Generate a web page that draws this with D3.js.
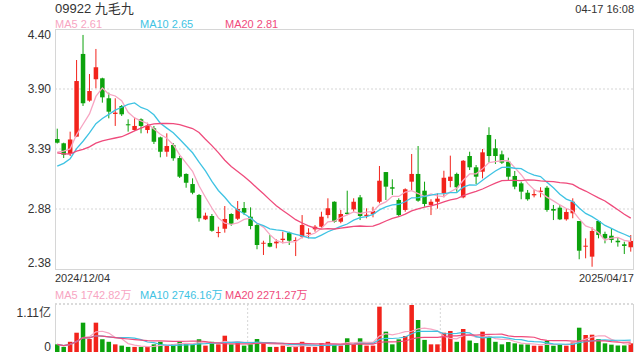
<!DOCTYPE html>
<html lang="zh">
<head>
<meta charset="UTF-8">
<title>09922 九毛九</title>
<script src="https://cdn.jsdelivr.net/npm/d3@7"></script>
<style>
  body { margin: 0; background: #fff; }
  svg { display: block; font-family: "Liberation Sans", Arial, "Noto Sans CJK SC", sans-serif; }
</style>
</head>
<body>
<svg id="chart" width="640" height="360"></svg>
<script>
// trading days shown
var dates = [
  "2024/12/04","2024/12/05","2024/12/06","2024/12/09","2024/12/10","2024/12/11","2024/12/12","2024/12/13","2024/12/16","2024/12/17",
  "2024/12/18","2024/12/19","2024/12/20","2024/12/23","2024/12/24","2024/12/27","2024/12/30","2024/12/31","2025/01/02","2025/01/03",
  "2025/01/06","2025/01/07","2025/01/08","2025/01/09","2025/01/10","2025/01/13","2025/01/14","2025/01/15","2025/01/16","2025/01/17",
  "2025/01/20","2025/01/21","2025/01/22","2025/01/23","2025/01/24","2025/01/27","2025/01/28","2025/02/03","2025/02/04","2025/02/05",
  "2025/02/06","2025/02/07","2025/02/10","2025/02/11","2025/02/12","2025/02/13","2025/02/14","2025/02/17","2025/02/18","2025/02/19",
  "2025/02/20","2025/02/21","2025/02/24","2025/02/25","2025/02/26","2025/02/27","2025/02/28","2025/03/03","2025/03/04","2025/03/05",
  "2025/03/06","2025/03/07","2025/03/10","2025/03/11","2025/03/12","2025/03/13","2025/03/14","2025/03/17","2025/03/18","2025/03/19",
  "2025/03/20","2025/03/21","2025/03/24","2025/03/25","2025/03/26","2025/03/27","2025/03/28","2025/03/31","2025/04/01","2025/04/02",
  "2025/04/03","2025/04/07","2025/04/08","2025/04/09","2025/04/10","2025/04/11","2025/04/14","2025/04/15","2025/04/16","2025/04/17"
];

var opens = [
  3.474,3.438,3.348,3.494,4.190,3.797,3.977,3.985,3.817,3.685,
  3.752,3.598,3.550,3.640,3.550,3.564,3.488,3.367,3.424,3.314,
  3.180,3.095,3.003,2.798,2.826,2.683,2.719,2.843,2.803,2.893,
  2.820,2.750,2.593,2.599,2.596,2.624,2.686,2.616,2.652,2.675,
  2.714,2.736,2.834,2.946,2.778,2.854,2.882,2.983,2.826,2.843,
  2.946,3.196,3.068,2.961,2.877,3.115,3.180,3.039,2.919,2.946,
  3.017,3.121,3.180,2.983,3.331,3.236,3.199,3.508,3.396,3.345,
  3.283,3.163,3.101,3.022,3.000,3.028,3.064,2.885,2.896,2.798,
  2.849,2.784,2.568,2.484,2.784,2.675,2.660,2.618,2.588,2.563
];
var highs = [
  3.561,3.443,3.536,4.139,4.350,4.021,4.232,3.990,3.864,3.817,
  3.760,3.640,3.657,3.648,3.611,3.584,3.494,3.522,3.440,3.331,
  3.185,3.143,3.011,2.854,2.843,2.736,2.910,2.849,2.952,2.944,
  2.899,2.759,2.618,2.666,2.630,2.694,2.694,2.647,2.834,2.723,
  2.750,2.862,2.975,2.950,2.877,3.039,2.975,3.003,2.891,2.904,
  3.247,3.196,3.135,2.975,3.059,3.348,3.415,3.115,2.967,3.017,
  3.207,3.334,3.191,3.297,3.367,3.255,3.390,3.573,3.472,3.376,
  3.317,3.205,3.115,3.045,3.045,3.068,3.079,2.919,2.919,2.891,
  2.975,2.784,2.638,2.731,2.784,2.694,2.723,2.647,2.610,2.666
];
var lows = [
  3.436,3.314,3.331,3.490,3.752,3.788,3.901,3.780,3.648,3.584,
  3.668,3.536,3.544,3.522,3.522,3.432,3.320,3.325,3.291,3.146,
  3.064,3.009,2.778,2.792,2.694,2.647,2.686,2.744,2.792,2.834,
  2.714,2.546,2.498,2.563,2.554,2.596,2.582,2.489,2.638,2.638,
  2.694,2.723,2.807,2.770,2.765,2.834,2.862,2.792,2.807,2.815,
  2.933,2.961,3.003,2.820,2.862,3.045,2.946,2.904,2.834,2.888,
  2.983,3.068,3.031,2.975,3.213,3.095,3.143,3.275,3.264,3.264,
  3.129,3.051,2.967,2.955,2.983,2.983,2.862,2.792,2.792,2.787,
  2.807,2.462,2.470,2.399,2.638,2.596,2.601,2.568,2.506,2.526
];
var closes = [
  3.443,3.342,3.470,3.962,3.775,3.878,4.078,3.825,3.704,3.696,
  3.682,3.590,3.584,3.584,3.584,3.451,3.367,3.415,3.312,3.157,
  3.106,3.022,2.807,2.829,2.702,2.691,2.801,2.759,2.885,2.854,
  2.742,2.582,2.601,2.568,2.610,2.635,2.618,2.624,2.750,2.686,
  2.736,2.820,2.891,2.778,2.843,2.843,2.946,2.826,2.837,2.868,
  3.123,3.073,3.056,2.834,3.051,3.180,2.955,2.927,2.946,2.972,
  3.148,3.157,3.068,3.291,3.236,3.157,3.362,3.331,3.331,3.275,
  3.157,3.073,3.031,2.967,3.011,3.039,2.877,2.871,2.798,2.860,
  2.946,2.534,2.576,2.700,2.666,2.638,2.624,2.605,2.574,2.616
];
// closes before 2024/12/04, estimated from where the MA lines start
var priorCloses = [3.52,3.50,3.49,3.47,3.46,3.45,3.44,3.46,3.45,3.47,3.10,3.08,3.12,3.15,3.18,3.30,3.38,3.36,3.34];

// volume in 万 shares
var volumes = [
  1770,1180,2360,4460,6780,3000,6780,2950,2360,1770,
  1475,1180,1180,1180,1180,1770,2360,1475,1770,2360,
  2065,1770,2950,1475,2360,1770,3770,1770,2360,1475,
  1770,3000,2065,1180,1180,1475,1180,1180,2360,1180,
  1180,2065,2360,1770,1475,3170,1770,3170,1475,1475,
  10480,4700,1770,2930,3700,10870,7400,2800,1770,1770,
  4460,4860,2360,5320,2650,2065,4700,3700,2360,1770,
  2300,2000,1750,1750,1450,1450,2600,1450,1750,1461,
  2200,5620,3930,4000,3000,2000,1700,1500,1514,2000
];

var priceTicks = [4.40, 3.90, 3.39, 2.88, 2.38];
var maNames = ["MA5", "MA10", "MA20"];
var maPeriods = [5, 10, 20];
var maColors = ["#f7a5c2", "#3fc3e3", "#ef4b7c"];
var maPriceText = ["2.61", "2.65", "2.81"];
var maVolText = ["1742.82万", "2746.16万", "2271.27万"];

var upColor = "#f2231b", downColor = "#0ca20c";

var svg = d3.select("#chart");
var left = 55, right = 633;
var pTop = 29, pBottom = 269;
var vTop = 304, vBottom = 352;

var x = d3.scaleBand().domain(dates).range([left, right]).paddingInner(0.3).paddingOuter(0);
var y = d3.scaleLinear().domain([2.38, 4.40]).range([pBottom, pTop]);
var yv = d3.scaleLinear().domain([0, 11100]).range([vBottom, vTop]);
var cx = d => x(d) + x.bandwidth() / 2;

var candles = dates.map((d, i) => ({ date: d, o: opens[i], h: highs[i], l: lows[i], c: closes[i], v: volumes[i] }));
var colorOf = d => d.c >= d.o ? upColor : downColor;

function movingAvg(values, prior, n) {
  var all = prior.concat(values);
  return values.map((v, i) => {
    var end = prior.length + i + 1;
    return d3.mean(all.slice(Math.max(0, end - n), end));
  });
}

// header texts
svg.append("text").attr("x", 55).attr("y", 13).attr("font-size", 13).attr("fill", "#333").text("09922 九毛九");
svg.append("text").attr("x", 634).attr("y", 13).attr("font-size", 11).attr("fill", "#333").attr("text-anchor", "end").text("04-17 16:08");

var legendX = [55, 140, 225];
maNames.forEach((n, i) => {
  svg.append("text").attr("x", legendX[i]).attr("y", 28).attr("font-size", 11).attr("fill", maColors[i]).text(n + " " + maPriceText[i]);
  svg.append("text").attr("x", legendX[i]).attr("y", 299).attr("font-size", 11).attr("fill", maColors[i]).text(n + " " + maVolText[i]);
});

// price grid
svg.append("g").selectAll("line").data(priceTicks.slice(1, 4)).enter().append("line")
  .attr("x1", left).attr("x2", right).attr("y1", (d, i) => pTop + (i + 1) * 60).attr("y2", (d, i) => pTop + (i + 1) * 60)
  .attr("stroke", "#e3e3e3").attr("stroke-width", 1.5).attr("stroke-dasharray", "2,2");

svg.append("rect").attr("x", left + 0.5).attr("y", pTop + 0.5).attr("width", right - left).attr("height", pBottom - pTop)
  .attr("fill", "none").attr("stroke", "#d6d6d6");

// y labels, tick spacing is even; top and bottom labels tucked inside
var labelY = [39, 93, 153, 213, 267];
svg.append("g").selectAll("text").data(priceTicks).enter().append("text")
  .attr("x", 51).attr("y", (d, i) => labelY[i]).attr("text-anchor", "end").attr("font-size", 12).attr("fill", "#333")
  .text(d => d.toFixed(2));

// candles
var cg = svg.append("g");
cg.selectAll("line").data(candles).enter().append("line")
  .attr("x1", d => cx(d.date) ).attr("x2", d => cx(d.date))
  .attr("y1", d => y(d.h)).attr("y2", d => y(d.l))
  .attr("stroke", colorOf).attr("stroke-width", 1);
cg.selectAll("rect").data(candles).enter().append("rect")
  .attr("x", d => x(d.date)).attr("width", x.bandwidth())
  .attr("y", d => y(Math.max(d.o, d.c)))
  .attr("height", d => Math.max(1, Math.abs(y(d.o) - y(d.c))))
  .attr("fill", colorOf);

// price MAs
var line = d3.line().x(d => cx(d[0])).y(d => d[1]);
maPeriods.forEach((n, i) => {
  var ma = movingAvg(closes, priorCloses, n);
  svg.append("path").attr("d", line(dates.map((d, j) => [d, y(ma[j])])))
    .attr("fill", "none").attr("stroke", maColors[i]).attr("stroke-width", 1.3);
});

svg.append("text").attr("x", 55).attr("y", 282).attr("font-size", 11).attr("fill", "#333").text(dates[0]);
svg.append("text").attr("x", 634).attr("y", 282).attr("font-size", 11).attr("fill", "#333").attr("text-anchor", "end").text(dates[dates.length - 1]);

// volume panel
var vw = right - left;
svg.append("line").attr("x1", left).attr("x2", right).attr("y1", vTop).attr("y2", vTop)
  .attr("stroke", "#cfcfcf").attr("stroke-width", 1.5).attr("stroke-dasharray", "2,2");
[left + vw / 3, left + 2 * vw / 3].forEach(gx => {
  svg.append("line").attr("x1", gx).attr("x2", gx).attr("y1", vTop).attr("y2", vBottom)
    .attr("stroke", "#d6d6d6").attr("stroke-width", 1).attr("stroke-dasharray", "2,2");
});
svg.append("line").attr("x1", left + 0.5).attr("x2", left + 0.5).attr("y1", vTop).attr("y2", vBottom).attr("stroke", "#d6d6d6");
svg.append("line").attr("x1", right + 0.5).attr("x2", right + 0.5).attr("y1", vTop).attr("y2", vBottom).attr("stroke", "#d6d6d6");

svg.append("g").selectAll("rect").data(candles).enter().append("rect")
  .attr("x", d => x(d.date)).attr("width", x.bandwidth())
  .attr("y", d => yv(d.v)).attr("height", d => vBottom - yv(d.v))
  .attr("fill", colorOf);

maPeriods.forEach((n, i) => {
  var ma = movingAvg(volumes, [], n);
  svg.append("path").attr("d", line(dates.map((d, j) => [d, yv(ma[j])])))
    .attr("fill", "none").attr("stroke", maColors[i]).attr("stroke-width", 1.2);
});

svg.append("text").attr("x", 51).attr("y", 317).attr("text-anchor", "end").attr("font-size", 12).attr("fill", "#333").text("1.11亿");
svg.append("text").attr("x", 51).attr("y", 351).attr("text-anchor", "end").attr("font-size", 12).attr("fill", "#333").text("0");
</script>
</body>
</html>
